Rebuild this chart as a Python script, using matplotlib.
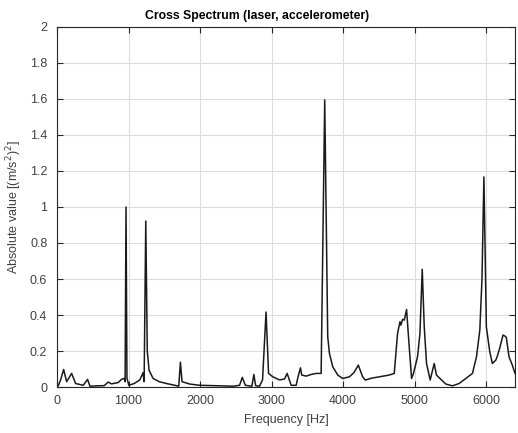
import numpy as np
import matplotlib
matplotlib.use('Agg')
import matplotlib.pyplot as plt
from matplotlib.ticker import FuncFormatter

# Curve: frequency [Hz] and absolute value [(m/s^2)^2]
freq = [0, 20, 55, 93, 135, 205, 260, 367, 428, 460, 560, 660, 716, 762, 855,
        902, 940, 952, 965, 978, 1004, 1080, 1158, 1204, 1218, 1241, 1262, 1287,
        1343, 1430, 1530, 1646, 1702, 1725, 1748, 1855, 1995, 2200, 2459, 2552,
        2590, 2632, 2724, 2752, 2776, 2831, 2873, 2922, 2957, 3017, 3110, 3180,
        3217, 3273, 3343, 3365, 3403, 3421, 3483, 3552, 3622, 3692, 3742, 3784,
        3808, 3854, 3924, 3993, 4086, 4150, 4212, 4272, 4310, 4400, 4505, 4644,
        4714, 4760, 4794, 4807, 4830, 4854, 4886, 4923, 4956, 4983, 5039, 5073,
        5105, 5133, 5165, 5216, 5272, 5304, 5365, 5435, 5527, 5621, 5714, 5807,
        5863, 5910, 5940, 5967, 6001, 6049, 6085, 6133, 6155, 6193, 6234, 6262,
        6280, 6318, 6364, 6402]
value = [0.0, 0.01, 0.045, 0.098, 0.03, 0.076, 0.02, 0.01, 0.043, 0.005, 0.007, 0.008,
         0.028, 0.018, 0.025, 0.043, 0.048, 0.03, 1.0, 0.05, 0.01, 0.02, 0.04, 0.08,
         0.03, 0.922, 0.2, 0.094, 0.048, 0.03, 0.02, 0.01, 0.005, 0.138, 0.03, 0.017,
         0.01, 0.008, 0.005, 0.01, 0.054, 0.01, 0.005, 0.07, 0.008, 0.005, 0.04, 0.417,
         0.076, 0.057, 0.04, 0.045, 0.076, 0.01, 0.01, 0.05, 0.107, 0.067, 0.061, 0.07,
         0.076, 0.076, 1.594, 0.28, 0.187, 0.113, 0.067, 0.048, 0.057, 0.08, 0.122,
         0.057, 0.039, 0.05, 0.057, 0.067, 0.076, 0.298, 0.363, 0.344, 0.376, 0.372,
         0.431, 0.224, 0.048, 0.076, 0.168, 0.298, 0.654, 0.335, 0.131, 0.039, 0.131,
         0.067, 0.043, 0.017, 0.007, 0.02, 0.048, 0.076, 0.168, 0.317, 0.6, 1.167,
         0.335, 0.196, 0.131, 0.15, 0.172, 0.224, 0.289, 0.283, 0.276, 0.168, 0.122,
         0.076]

x_ticks = [0, 1000, 2000, 3000, 4000, 5000, 6000]
y_ticks = [0, 0.2, 0.4, 0.6, 0.8, 1, 1.2, 1.4, 1.6, 1.8, 2]

plt.rcParams['font.family'] = ['Liberation Sans', 'DejaVu Sans']
plt.rcParams['font.size'] = 9

fig = plt.figure(figsize=(5.18, 4.33), dpi=100)
ax = fig.add_axes([0.110, 0.106, 0.884, 0.832])

ax.plot(freq, value, color='#1a1a1a', linewidth=1.1)

ax.set_xlim(0, 6400)
ax.set_ylim(0, 2)
ax.set_xticks(x_ticks)
ax.set_yticks(y_ticks)
ax.yaxis.set_major_formatter(FuncFormatter(lambda v, p: '%g' % v))

ax.grid(True, color='#dcdcdc', linewidth=0.8)
ax.set_axisbelow(True)
ax.tick_params(direction='in', top=True, right=True, length=4,
               colors='#262626', labelcolor='#404040', width=0.8)
ax.tick_params(axis='x', pad=6)
ax.tick_params(axis='y', pad=7)
for s in ax.spines.values():
    s.set_color('#262626')
    s.set_linewidth(0.8)

ax.set_xlabel('Frequency [Hz]', color='#404040', labelpad=5)
ax.set_ylabel('Absolute value [(m/s$^2$)$^2$]', color='#404040', labelpad=4)
ax.set_title('Cross Spectrum (laser, accelerometer)', fontweight='bold',
             color='black', fontsize=8.8, x=0.437, pad=6)

fig.savefig('out.png', dpi=100)
